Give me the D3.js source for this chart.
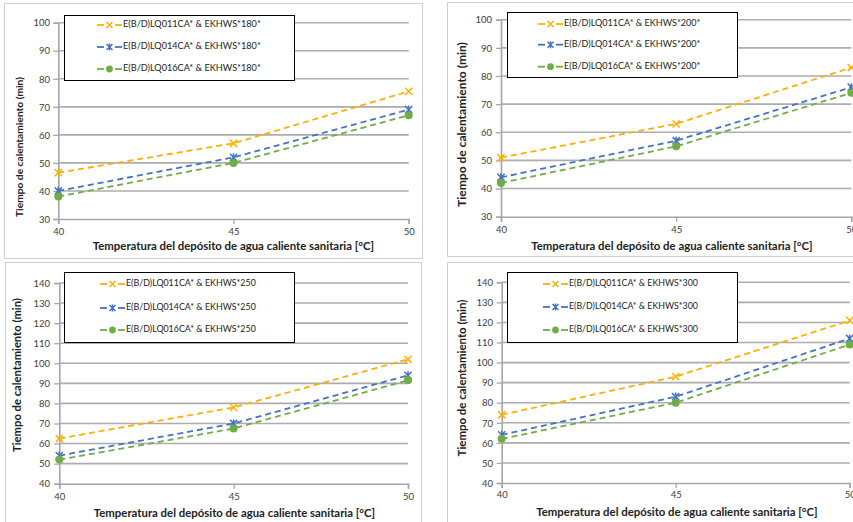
<!DOCTYPE html>
<html><head><meta charset="utf-8">
<script src="https://cdn.jsdelivr.net/npm/d3@7"></script>
<style>html,body{margin:0;padding:0;background:#fff;overflow:hidden}svg{display:block}</style>
</head><body>
<svg id="chart" width="853" height="522"></svg>
<script>
// ---------- DATA ----------
const temperatures = [40, 45, 50];
const seriesKeys = ["LQ011", "LQ014", "LQ016"];
const xTitle = "Temperatura del depósito de agua caliente sanitaria [°C]";
const yTitle = "Tiempo de calentamiento (min)";

const labels180 = ["E(B/D)LQ011CA*  & EKHWS*180*", "E(B/D)LQ014CA* & EKHWS*180*", "E(B/D)LQ016CA* & EKHWS*180*"];
const labels200 = ["E(B/D)LQ011CA*  & EKHWS*200*", "E(B/D)LQ014CA* & EKHWS*200*", "E(B/D)LQ016CA* & EKHWS*200*"];
const labels250 = ["E(B/D)LQ011CA* & EKHWS*250", "E(B/D)LQ014CA* & EKHWS*250", "E(B/D)LQ016CA* & EKHWS*250"];
const labels300 = ["E(B/D)LQ011CA* & EKHWS*300", "E(B/D)LQ014CA* & EKHWS*300", "E(B/D)LQ016CA* & EKHWS*300"];

const values180_011 = [46.5, 57, 75.5];
const values180_014 = [40, 52, 69];
const values180_016 = [38, 50, 67];

const values200_011 = [51, 63, 83];
const values200_014 = [44, 57, 76];
const values200_016 = [42, 55, 74];

const values250_011 = [62.5, 78, 102];
const values250_014 = [54, 70, 94];
const values250_016 = [52, 67.5, 91.5];

const values300_011 = [74, 93, 121];
const values300_014 = [64, 83, 112];
const values300_016 = [62, 80, 109];

const yTicksTop = [30, 40, 50, 60, 70, 80, 90, 100];
const yTicksBottom = [40, 50, 60, 70, 80, 90, 100, 110, 120, 130, 140];

// ---------- STYLE / LAYOUT ----------
const colors = {LQ011: "#FFB000", LQ014: "#4472C4", LQ016: "#70AD47"};
const markers = {LQ011: "x", LQ014: "star", LQ016: "circle"};
const FONT = "Lato, 'Open Sans', sans-serif";

const panels = [
  {labels: labels180, series: [values180_011, values180_014, values180_016], yTicks: yTicksTop,
   frame: [4.5, 3.5, 422.5, 258.5], x0: 58.3, x1: 408.7, yTop: 22.7, yBot: 219,
   ytickX: 50, xtickY: 232, yTitleX: 20, yTitleY: 147, yTitleW: 140, xTitleX: 233.5, xTitleY: 247,
   legend: [64.5, 15.5, 294.5, 80.5], legY: [25, 47, 69], legX: 97, legTextW: 138},
  {labels: labels200, series: [values200_011, values200_014, values200_016], yTicks: yTicksTop,
   frame: [447.5, 2.5, 860, 256.5], x0: 501, x1: 851.3, yTop: 19.7, yBot: 216.7,
   ytickX: 492, xtickY: 230, yTitleX: 463, yTitleY: 124.5, yTitleW: 165, xTitleX: 672, xTitleY: 247,
   legend: [507.5, 12.5, 737.5, 77.5], legY: [24, 44.7, 66.7], legX: 538, legTextW: 136.6},
  {labels: labels250, series: [values250_011, values250_014, values250_016], yTicks: yTicksBottom,
   frame: [5.5, 262.5, 421.5, 530], x0: 59.3, x1: 408, yTop: 283, yBot: 483.7,
   ytickX: 50, xtickY: 497, yTitleX: 18, yTitleY: 375, yTitleW: 154, xTitleX: 234.5, xTitleY: 514,
   legend: [64.5, 272.5, 294.5, 342.5], legY: [284, 308, 330], legX: 100, legTextW: 130},
  {labels: labels300, series: [values300_011, values300_014, values300_016], yTicks: yTicksBottom,
   frame: [447.5, 262.5, 860, 530], x0: 501.7, x1: 849.7, yTop: 282.3, yBot: 483,
   ytickX: 493, xtickY: 495, yTitleX: 463, yTitleY: 378, yTitleW: 157, xTitleX: 677, xTitleY: 513,
   legend: [507.5, 272.5, 737.5, 342.5], legY: [284, 307, 330], legX: 543, legTextW: 129}
];

const svg = d3.select("#chart");

function fitWidth(sel, target) {
  const w = sel.node().getComputedTextLength();
  const fs = parseFloat(sel.attr("font-size"));
  if (w > 0) sel.attr("font-size", fs * target / w);
  return parseFloat(sel.attr("font-size"));
}

function drawMarker(g, type, cx, cy, color, s) {
  s = s || 3.6;
  if (type === "circle") {
    g.append("circle").attr("cx", cx).attr("cy", cy).attr("r", s + 0.4).attr("fill", color);
  } else {
    const p = d3.path();
    p.moveTo(cx - s, cy - s); p.lineTo(cx + s, cy + s);
    p.moveTo(cx - s, cy + s); p.lineTo(cx + s, cy - s);
    if (type === "star") { p.moveTo(cx, cy - s - 0.5); p.lineTo(cx, cy + s + 0.5); }
    g.append("path").attr("d", p.toString()).attr("stroke", color)
      .attr("stroke-width", 1.5).attr("fill", "none");
  }
}

panels.forEach(P => {
  const g = svg.append("g");
  const [fx0, fy0, fx1, fy1] = P.frame;
  g.append("rect").attr("x", fx0).attr("y", fy0).attr("width", fx1 - fx0).attr("height", fy1 - fy0)
    .attr("fill", "#fff").attr("stroke", "#d0d0d0").attr("stroke-width", 1);

  const ymin = d3.min(P.yTicks), ymax = d3.max(P.yTicks);
  const x = d3.scaleLinear().domain([40, 50]).range([P.x0, P.x1]);
  const y = d3.scaleLinear().domain([ymin, ymax]).range([P.yBot, P.yTop]);

  // gridlines
  g.append("g").selectAll("line").data(P.yTicks.filter(t => t !== ymin)).join("line")
    .attr("x1", P.x0).attr("x2", P.x1).attr("y1", d => y(d)).attr("y2", d => y(d))
    .attr("stroke", "#adadad").attr("stroke-width", 1.6);

  // y axis
  const yAxis = d3.axisLeft(y).tickValues(P.yTicks).tickSize(5).tickPadding(3).tickFormat(d3.format("d"));
  const ya = g.append("g").attr("transform", `translate(${P.x0},0)`).call(yAxis);
  ya.select(".domain").attr("stroke", "#a6a6a6").attr("stroke-width", 1.6);
  ya.selectAll(".tick line").attr("stroke", "#a6a6a6").attr("stroke-width", 1.3);
  ya.selectAll(".tick text").attr("font-family", FONT).attr("font-size", 9.5).attr("fill", "#404040")
    .attr("x", P.ytickX - P.x0).attr("dy", "0.34em");

  // x axis
  const xAxis = d3.axisBottom(x).tickValues(temperatures).tickSize(5).tickFormat(d3.format("d"));
  const xa = g.append("g").attr("transform", `translate(0,${P.yBot})`).call(xAxis);
  xa.select(".domain").attr("stroke", "#a6a6a6").attr("stroke-width", 1.6);
  xa.selectAll(".tick line").attr("stroke", "#a6a6a6").attr("stroke-width", 1.3);
  xa.selectAll(".tick text").attr("font-family", FONT).attr("font-size", 9.5).attr("fill", "#404040")
    .attr("y", P.xtickY - P.yBot).attr("dy", "0.34em");

  // series
  const line = d3.line().x((d, i) => x(temperatures[i])).y(d => y(d));
  P.series.forEach((vals, si) => {
    const key = seriesKeys[si];
    g.append("path").datum(vals).attr("d", line).attr("fill", "none")
      .attr("stroke", colors[key]).attr("stroke-width", 1.8).attr("stroke-dasharray", "6,4");
  });
  P.series.forEach((vals, si) => {
    const key = seriesKeys[si];
    vals.forEach((v, i) => drawMarker(g, markers[key], x(temperatures[i]), y(v), colors[key]));
  });

  // titles
  const xt = g.append("text").attr("x", P.xTitleX).attr("y", P.xTitleY).attr("text-anchor", "middle")
    .attr("dominant-baseline", "middle").attr("font-family", FONT).attr("font-weight", "bold")
    .attr("font-size", 11).attr("fill", "#222").text(xTitle);
  fitWidth(xt, 282);
  const yt = g.append("text").attr("transform", `translate(${P.yTitleX},${P.yTitleY}) rotate(-90)`)
    .attr("text-anchor", "middle").attr("dominant-baseline", "middle").attr("font-family", FONT)
    .attr("font-weight", "bold").attr("font-size", 11).attr("fill", "#222").text(yTitle);
  fitWidth(yt, P.yTitleW);

  // legend
  const [lx0, ly0, lx1, ly1] = P.legend;
  const lg = g.append("g");
  lg.append("rect").attr("x", lx0).attr("y", ly0).attr("width", lx1 - lx0).attr("height", ly1 - ly0)
    .attr("fill", "#fff").attr("stroke", "#000").attr("stroke-width", 1);
  let fs = null;
  P.labels.forEach((lab, si) => {
    const key = seriesKeys[si];
    const cy = P.legY[si];
    [[0, 7], [18, 25]].forEach(([a, b]) => {
      lg.append("line").attr("x1", P.legX + a).attr("x2", P.legX + b).attr("y1", cy).attr("y2", cy)
        .attr("stroke", colors[key]).attr("stroke-width", 1.8);
    });
    drawMarker(lg, markers[key], P.legX + 12.5, cy, colors[key], 3);
    const t = lg.append("text").attr("x", P.legX + 26).attr("y", cy).attr("dominant-baseline", "middle")
      .attr("font-family", FONT).attr("font-size", fs || 9.5).attr("fill", "#222").text(lab);
    if (si === 0) fs = fitWidth(t, P.legTextW);
  });
});
</script>
</body></html>
